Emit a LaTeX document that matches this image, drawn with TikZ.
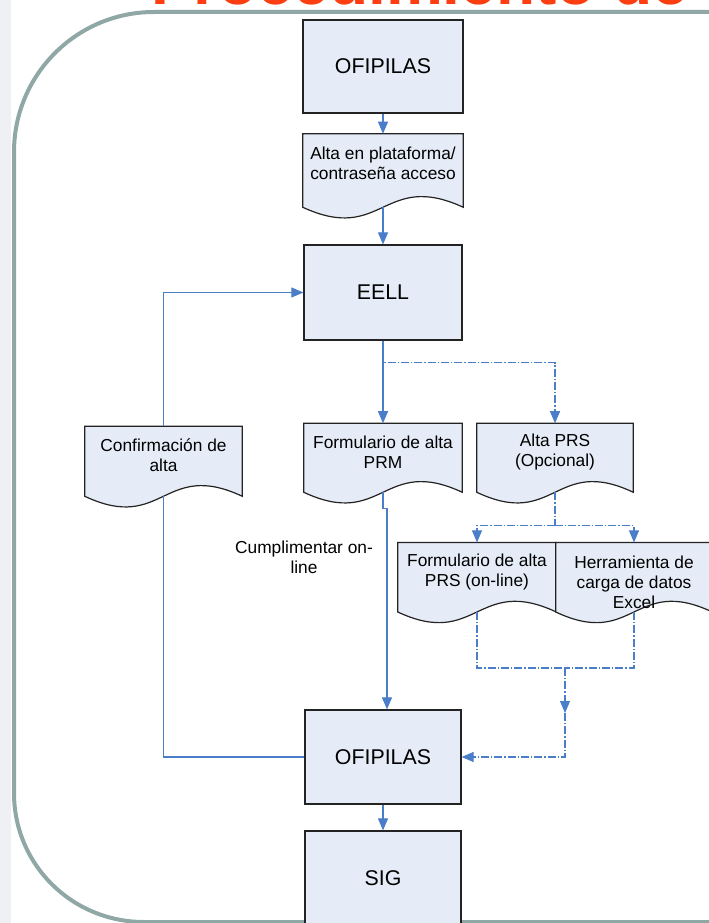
\documentclass[tikz,border=0pt]{standalone}
\usepackage{fontspec}
\setmainfont{Liberation Sans}
\usetikzlibrary{arrows.meta,calc,backgrounds}
\definecolor{boxfill}{RGB}{230,236,247}
\definecolor{boxline}{RGB}{35,35,35}
\definecolor{flowblue}{RGB}{74,126,200}
\definecolor{framegray}{RGB}{143,168,166}
\definecolor{bandgray}{RGB}{239,240,244}
\definecolor{titlered}{RGB}{252,62,18}
\tikzset{
  proc/.style={draw=boxline, line width=0.9pt, fill=boxfill, minimum width=117pt, minimum height=70.5pt, inner sep=0pt, font=\fontsize{16}{19}\selectfont},
  docnode/.style={minimum width=118.5pt, minimum height=43.5pt, align=center, inner sep=2pt, font=\fontsize{13}{15}\selectfont},
  docbox/.style={draw=boxline, line width=0.9pt, fill=boxfill},
  flow/.style={draw=flowblue, line width=0.8pt, -{Triangle[length=9pt,width=7.5pt]}},
  dashflow/.style={flow, dash pattern=on 6pt off 1.5pt on 1pt off 1.5pt},
}
% document outline: x from #1, top and bottom from #2, wave #3 below south
\newcommand{\docshape}[3]{%
  \begin{pgfonlayer}{background}
    \filldraw[docbox] (#1.west |- #2.north) -- (#1.east |- #2.north)
      -- ($(#1.east |- #2.south)+(0,#3)$)
      .. controls ($(#1.south |- #2.south)+(0,{#3-37})$) and ($(#1.south |- #2.south)+(0,{#3+37})$)
      .. ($(#1.west |- #2.south)+(0,#3)$) -- cycle;
  \end{pgfonlayer}}
\begin{document}
\begin{tikzpicture}[x=0.75pt,y=-0.75pt]
  \useasboundingbox (0,0) rectangle (708,923);
  \fill[bandgray] (0,0) rectangle (11,923);
  \draw[framegray, line width=3pt] (720,12) -- (154,12) .. controls (76.7,12) and (14,74.7) .. (14,152)
    -- (14,793) .. controls (14,864.8) and (72.2,922) .. (144,922) -- (720,922);
  \node[anchor=base west, inner sep=0pt, text=titlered, font=\bfseries\fontsize{48}{48}\selectfont] (titulo) at (151,5) {Procedimiento de};

  \node[proc, minimum width=120pt, minimum height=69.75pt] (ofi1) at (383,66.5) {OFIPILAS};
  \node[docnode, minimum width=120pt] (alta) at (383,163) {Alta en plataforma/\\contraseña acceso};
  \node[proc, minimum width=118.5pt, minimum height=71.25pt] (eell) at (383,292.5) {EELL};
  \node[docnode, minimum width=117.75pt] (conf) at (163.5,455.5) {Confirmación de\\alta};
  \node[docnode] (prm) at (383,452.5) {Formulario de alta\\PRM};
  \node[docnode, minimum width=117pt] (altaprs) at (555,452.5) {Alta PRS\\(Opcional)};
  \node[docnode] (prsform) at (477,571.7) {Formulario de alta\\PRS (on-line)};
  \node[docnode, minimum width=117pt] (herr) at (634,582) {Herramienta de\\carga de datos\\Excel};
  \node[proc] (ofi2) at (383,757) {OFIPILAS};
  \node[proc] (sig) at (383,878) {SIG};
  \node[align=center, font=\fontsize{13}{15}\selectfont] (cumpl) at (304,557) {Cumplimentar on-\\line};

  \docshape{alta}{alta}{15}
  \docshape{conf}{conf}{11.5}
  \docshape{prm}{prm}{10.5}
  \docshape{altaprs}{altaprs}{10.5}
  \docshape{prsform}{prsform}{11}
  \docshape{herr}{prsform}{11}

  \draw[flow] (ofi1.south) -- (alta.north);
  \draw[flow] ($(alta.south)+(0,15)$) -- (eell.north);
  \draw[flow] (eell.south) -- (prm.north);
  \draw[dashflow] (eell.south) -- ++(0,22) -| (altaprs.north);
  \draw[flow] (conf.north) |- (eell.west);
  \draw[flow, -] (ofi2.west) -| ($(conf.south)+(0,11.5)$);
  \draw[flow] ($(prm.south)+(0,10.5)$) -- ++(0,16) -- ++(4,0) -- ($(ofi2.north)+(4,0)$);

  \coordinate (prssplit) at ($(altaprs.south)+(0,44)$);
  \draw[dashflow, -] ($(altaprs.south)+(0,10.5)$) -- (prssplit);
  \draw[dashflow] (prssplit) -| (prsform.north);
  \draw[dashflow] (prssplit) -| (herr.center |- prsform.north);

  \coordinate (prsjoin) at (565,668);
  \coordinate (prsarrow) at (565,713);
  \draw[dashflow, -] ($(prsform.south)+(0,11)$) |- (prsjoin);
  \draw[dashflow, -] ($(herr.south |- prsform.south)+(0,11)$) |- (prsjoin);
  \draw[dashflow] (prsjoin) -- (prsarrow);
  \draw[dashflow] (prsarrow) |- (ofi2.east);
  \draw[flow] (ofi2.south) -- (sig.north);
\end{tikzpicture}
\end{document}
